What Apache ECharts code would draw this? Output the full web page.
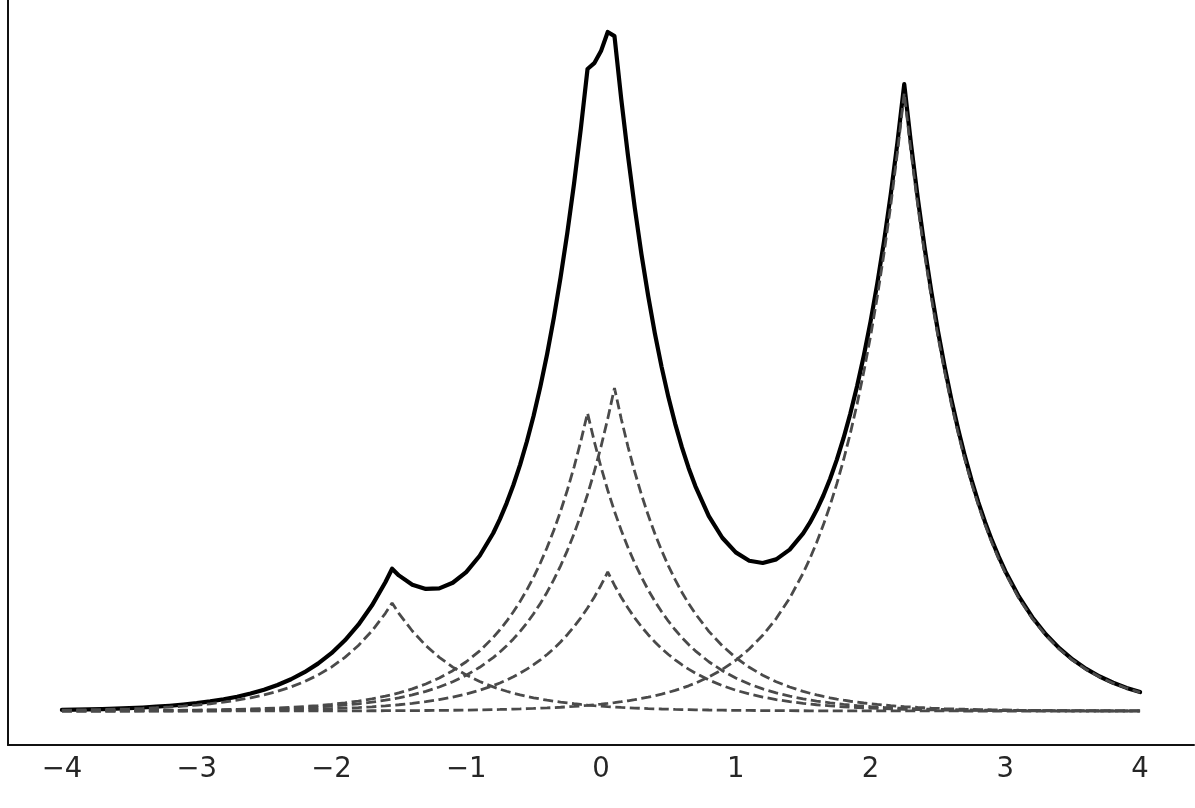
<!DOCTYPE html>
<html>
<head>
<meta charset="utf-8">
<script src="https://cdn.jsdelivr.net/npm/echarts@6/dist/echarts.min.js"></script>
<style>
html,body{margin:0;padding:0;background:#fff;}
#chart{width:1195px;height:808px;}
</style>
</head>
<body>
<div id="chart"></div>
<script>
// main x positions (shared by all curves)
const xs = [-4.0,-3.9,-3.8,-3.7,-3.6,-3.5,-3.4,-3.3,-3.2,-3.1,-3.0,-2.9,-2.8,-2.7,-2.6,-2.5,-2.4,-2.3,-2.2,-2.1,-2.0,-1.9,-1.8,-1.7,-1.6,-1.55,-1.5,-1.4,-1.3,-1.2,-1.1,-1.0,-0.9,-0.8,-0.7,-0.6,-0.5,-0.4,-0.3,-0.2,-0.1,0.0,0.05,0.1,0.2,0.3,0.4,0.5,0.6,0.7,0.8,0.9,1.0,1.1,1.2,1.3,1.4,1.5,1.6,1.7,1.8,1.9,2.0,2.1,2.2,2.25,2.3,2.4,2.5,2.6,2.7,2.8,2.9,3.0,3.1,3.2,3.3,3.4,3.5,3.6,3.7,3.8,3.9,4.0];
// extra x positions read near the two tall peaks
const xsHalf = [-0.75,-0.65,-0.55,-0.45,-0.35,-0.25,-0.15,-0.05,0.15,0.25,0.35,0.45,0.55,0.65,1.55,1.65,1.75,1.85,1.95,2.05,2.15,2.35,2.45,2.55,2.65,2.75,2.85,2.95];

// component near -1.55
const comp1 = [0.80,0.98,1.20,1.47,1.79,2.19,2.67,3.26,3.98,4.87,5.94,7.26,8.87,10.83,13.23,16.15,19.73,24.10,29.43,35.95,43.91,53.63,65.51,80.01,97.72,108,97.72,80.01,65.51,53.63,43.91,35.95,29.43,24.10,19.73,16.15,13.23,10.83,8.87,7.26,5.94,4.87,4.40,3.98,3.26,2.67,2.19,1.79,1.47,1.20,0.98,0.80,0.66,0.54,0.44,0.36,0.30,0.24,0.20,0.16,0.13,0.11,0.09,0.07,0.06,0.05,0.05,0.04,0.03,0.03,0.02,0.02,0.01,0.01,0.01,0.01,0.01,0.01,0.00,0.00,0.00,0.00,0.00,0.00];
const comp1Half = [21.80,17.85,14.62,11.97,9.80,8.02,6.57,5.38,3.60,2.95,2.42,1.98,1.62,1.33,0.22,0.18,0.15,0.12,0.10,0.08,0.07,0.05,0.04,0.03,0.03,0.02,0.02,0.01];
// component near -0.1
const comp2 = [0.12,0.15,0.18,0.22,0.27,0.33,0.41,0.50,0.60,0.74,0.90,1.10,1.35,1.64,2.01,2.45,3.00,3.66,4.47,5.46,6.67,8.14,9.95,12.15,14.84,16.40,18.12,22.13,27.03,33.02,40.33,49.26,60.17,73.49,89.76,109.63,133.90,163.55,199.75,243.98,298,243.98,220.76,199.75,163.55,133.90,109.63,89.76,73.49,60.17,49.26,40.33,33.02,27.03,22.13,18.12,14.84,12.15,9.95,8.14,6.67,5.46,4.47,3.66,3.00,2.71,2.45,2.01,1.64,1.35,1.10,0.90,0.74,0.60,0.50,0.41,0.33,0.27,0.22,0.18,0.15,0.12,0.10,0.08];
const comp2Half = [81.21,99.20,121.16,147.98,180.75,220.76,269.64,269.64,180.75,147.98,121.16,99.20,81.21,66.49,10.99,9.00,7.37,6.03,4.94,4.04,3.31,2.22,1.82,1.49,1.22,1.00,0.82,0.67];
// component near 0.1
const comp3 = [0.09,0.11,0.13,0.16,0.20,0.24,0.29,0.36,0.44,0.54,0.66,0.80,0.98,1.19,1.46,1.78,2.18,2.66,3.25,3.97,4.84,5.92,7.23,8.83,10.78,11.91,13.17,16.08,19.64,23.99,29.30,35.79,43.71,53.39,65.21,79.65,97.29,118.82,145.13,177.27,216.51,264.45,292.26,323,264.45,216.51,177.27,145.13,118.82,97.29,79.65,65.21,53.39,43.71,35.79,29.30,23.99,19.64,16.08,13.17,10.78,8.83,7.23,5.92,4.84,4.38,3.97,3.25,2.66,2.18,1.78,1.46,1.19,0.98,0.80,0.66,0.54,0.44,0.36,0.29,0.24,0.20,0.16,0.13];
const comp3Half = [59.01,72.07,88.03,107.52,131.32,160.40,195.91,239.28,292.26,239.28,195.91,160.40,131.32,107.52,17.77,14.55,11.91,9.75,7.99,6.54,5.35,3.59,2.94,2.41,1.97,1.61,1.32,1.08];
// smaller component near 0.05
const comp4 = [0.04,0.05,0.06,0.08,0.09,0.11,0.14,0.17,0.21,0.26,0.31,0.38,0.47,0.57,0.69,0.85,1.04,1.26,1.54,1.89,2.30,2.81,3.44,4.20,5.13,5.67,6.26,7.65,9.34,11.41,13.94,17.02,20.79,25.39,31.02,37.88,46.27,56.51,69.03,84.31,102.97,125.77,139,125.77,102.97,84.31,69.03,56.51,46.27,37.88,31.02,25.39,20.79,17.02,13.94,11.41,9.34,7.65,6.26,5.13,4.20,3.44,2.81,2.30,1.89,1.71,1.54,1.26,1.04,0.85,0.69,0.57,0.47,0.38,0.31,0.26,0.21,0.17,0.14,0.11,0.09,0.08,0.06,0.05];
const comp4Half = [28.06,34.28,41.87,51.14,62.46,76.28,93.17,113.80,113.80,93.17,76.28,62.46,51.14,41.87,6.92,5.67,4.64,3.80,3.11,2.55,2.08,1.40,1.14,0.94,0.77,0.63,0.51,0.42];
// component near 2.25
const comp5 = [0.00,0.00,0.00,0.01,0.01,0.01,0.01,0.01,0.01,0.02,0.02,0.02,0.03,0.03,0.04,0.05,0.06,0.07,0.08,0.10,0.13,0.15,0.19,0.23,0.28,0.31,0.34,0.42,0.51,0.62,0.76,0.93,1.13,1.39,1.69,2.07,2.53,3.09,3.77,4.60,5.62,6.87,7.59,8.39,10.24,12.51,15.28,18.66,22.79,27.84,34.00,41.53,50.73,61.96,75.68,92.43,112.90,137.89,168.42,205.71,251.26,306.89,374.84,457.83,559.19,618,559.19,457.83,374.84,306.89,251.26,205.71,168.42,137.89,112.90,92.43,75.68,61.96,50.73,41.53,34.00,27.84,22.79,18.66];
const comp5Half = [1.53,1.87,2.29,2.79,3.41,4.16,5.09,6.21,9.27,11.32,13.83,16.89,20.62,25.19,152.40,186.14,227.35,277.69,339.17,414.26,505.98,505.98,414.26,339.17,277.69,227.35,186.14,152.40];
// overall curve
const total = [1.05,1.29,1.57,1.94,2.36,2.88,3.52,4.30,5.24,6.43,7.83,9.56,11.70,14.26,17.43,21.28,26.01,31.75,38.77,47.37,57.85,70.65,86.32,105.42,128.75,142.29,135.61,126.29,122.03,122.67,128.24,138.95,155.23,177.76,207.9,246.4,295.2,356.8,433.6,527.4,642.0,659.9,679.0,674.9,555.5,456.9,377.4,313.9,263.8,224.9,194.91,173.26,158.59,150.26,147.98,151.62,161.37,177.57,200.91,232.31,273.04,324.73,389.44,469.78,568.98,626.85,567.20,464.39,380.21,311.30,254.85,208.66,170.83,139.86,114.52,93.77,76.77,62.85,51.45,42.11,34.48,28.24,23.11,18.92];
const totalHalf = [191.9,226.0,269.5,324.4,393.2,478.1,581.9,647.8,612.2,503.7,415.1,343.9,287.4,243.1,188.3,215.5,251.4,297.4,355.3,427.5,516.8,513.2,420.2,344.0,281.7,230.6,188.8,154.6];

const tickValues = [-4,-3,-2,-1,0,1,2,3,4];

const pairs = (a, b) => xs.map((x, i) => [x, a[i]])
  .concat(xsHalf.map((x, i) => [x, b[i]]))
  .sort((p, q) => p[0] - q[0]);
const dashStyle = {color: '#4a4a4a', width: 2.8, type: [10, 4.5], cap: 'butt'};

const chart = echarts.init(document.getElementById('chart'), null, {renderer: 'canvas'});
chart.setOption({
  animation: false,
  backgroundColor: '#ffffff',
  grid: {left: 8, right: 1, top: 0, bottom: 63, containLabel: false},
  xAxis: {
    type: 'value', min: -4.4, max: 4.4,
    axisLine: {show: true, onZero: false, lineStyle: {color: '#111', width: 2}},
    axisTick: {show: false},
    splitLine: {show: false},
    axisLabel: {
      customValues: tickValues,
      margin: 11,
      fontFamily: 'DejaVu Sans', fontSize: 27.5, color: '#262626',
      formatter: v => (v < 0 ? '\u2212' + Math.abs(v) : String(v))
    }
  },
  yAxis: {
    type: 'value', min: -34, max: 711,
    axisLine: {show: true, onZero: false, lineStyle: {color: '#111', width: 2}},
    axisTick: {show: false},
    axisLabel: {show: false},
    splitLine: {show: false}
  },
  series: [
    {type: 'line', data: pairs(total, totalHalf), showSymbol: false, symbol: 'none',
     lineStyle: {color: '#000', width: 4.2, cap: 'round', join: 'round'}, z: 2},
    {type: 'line', data: pairs(comp1, comp1Half), showSymbol: false, symbol: 'none', lineStyle: dashStyle, z: 3},
    {type: 'line', data: pairs(comp2, comp2Half), showSymbol: false, symbol: 'none', lineStyle: dashStyle, z: 3},
    {type: 'line', data: pairs(comp3, comp3Half), showSymbol: false, symbol: 'none', lineStyle: dashStyle, z: 3},
    {type: 'line', data: pairs(comp4, comp4Half), showSymbol: false, symbol: 'none', lineStyle: dashStyle, z: 3},
    {type: 'line', data: pairs(comp5, comp5Half), showSymbol: false, symbol: 'none', lineStyle: dashStyle, z: 3}
  ]
});
</script>
</body>
</html>
